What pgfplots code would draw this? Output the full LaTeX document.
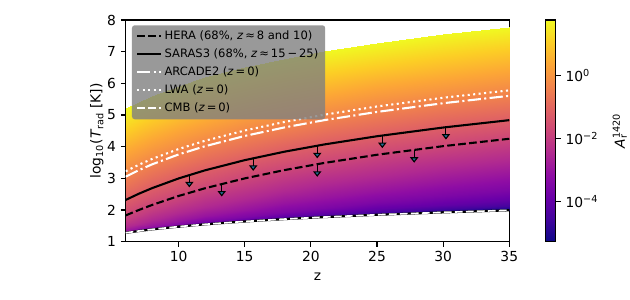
\documentclass[border=0pt]{standalone}
\usepackage{fontspec}
\setmainfont{DejaVu Sans}
\usepackage{pgfplots}
\pgfplotsset{compat=1.18}
\usetikzlibrary{arrows.meta}
\definecolor{headblue}{RGB}{31,110,150}
\pgfplotsset{colormap={plasma}{rgb255=(13,8,135) rgb255=(65,4,157) rgb255=(106,0,168) rgb255=(143,13,164) rgb255=(177,42,144) rgb255=(204,71,120) rgb255=(225,100,98) rgb255=(242,132,75) rgb255=(252,166,54) rgb255=(252,206,37) rgb255=(240,249,33)}}
\begin{document}
\begin{tikzpicture}
\useasboundingbox (0,0) rectangle (6.3in,3in);
\begin{axis}[
  at={(1.257in,0.583in)}, anchor=south west,
  scale only axis, width=3.836in, height=2.217in,
  xmin=6, xmax=35, ymin=1, ymax=8,
  xtick={10,15,20,25,30,35}, ytick={1,2,3,4,5,6,7,8},
  xtick pos=bottom, ytick pos=left, tick align=outside,
  major tick length=3.5pt,
  tick style={black, line width=0.8pt},
  axis line style={line width=0.8pt},
  /pgf/number format/assume math mode=true,
  tick label style={font=\fontsize{10}{12}\selectfont},
  label style={font=\fontsize{10}{12}\selectfont},
  xlabel={z},
  xlabel style={at={(axis description cs:0.5,-0.159)}, anchor=center},
  ylabel={log\textsubscript{10}(\textit{T}\textsubscript{rad} [K])},
  ylabel style={at={(axis description cs:-0.075,0.5)}, anchor=center},
  colormap name=plasma,
  point meta min=-5.26, point meta max=1.74,
  colorbar,
  colorbar style={
    at={(parent axis.north east)}, anchor=north west, xshift=0.24in,
    scale only axis, width=0.107in, height=2.217in,
    ytick={-4,-2,0},
    yticklabels={10\textsuperscript{−4},10\textsuperscript{−2},10\textsuperscript{0}},
    ytick pos=right, yticklabel pos=right, tick align=outside,
    major tick length=3.5pt,
    tick style={black, line width=0.8pt},
    axis line style={line width=0.8pt},
    tick label style={font=\fontsize{10}{12}\selectfont},
    ylabel={\textit{A}\rlap{\textsubscript{r}}\textsuperscript{1420}},
    ylabel style={font=\fontsize{10}{12}\selectfont, yshift=-0.05in},
  },
  legend style={at={(axis description cs:0,1)}, anchor=north west,
    xshift=0.06in, yshift=-0.05in,
    fill=gray, fill opacity=0.8, text opacity=1, draw=none,
    rounded corners=2pt,
    font=\fontsize{8.33}{10}\selectfont, row sep=1.2pt},
  legend cell align=left,
]
\addplot[surf, shader=interp, forget plot, mesh/rows=14, mesh/cols=11, point meta=\thisrow{a}] table[x=z, y=y] {
z y a
6 1.2805 -5.26
7 1.3385 -5.26
8 1.3897 -5.26
10 1.4768 -5.26
12 1.5494 -5.26
15 1.6395 -5.26
18 1.7142 -5.26
21 1.7778 -5.26
25 1.8504 -5.26
30 1.9268 -5.26
35 1.9917 -5.26
6 1.2827 -4.5
7 1.3415 -4.5
8 1.3938 -4.5
10 1.4837 -4.5
12 1.5601 -4.5
15 1.6577 -4.5
18 1.7423 -4.5
21 1.8183 -4.5
25 1.9115 -4.5
30 2.0197 -4.5
35 2.1226 -4.5
6 1.2873 -4
7 1.3481 -4
8 1.4026 -4
10 1.4984 -4
12 1.5823 -4
15 1.6946 -4
18 1.7975 -4
21 1.8948 -4
25 2.0199 -4
30 2.1709 -4
35 2.3165 -4
6 1.3016 -3.5
7 1.3681 -3.5
8 1.4294 -3.5
10 1.5417 -3.5
12 1.6459 -3.5
15 1.7940 -3.5
18 1.9364 -3.5
21 2.0741 -3.5
25 2.2501 -3.5
30 2.4564 -3.5
35 2.6468 -3.5
6 1.3440 -3
7 1.4259 -3
8 1.5045 -3
10 1.6558 -3
12 1.8016 -3
15 2.0108 -3
18 2.2074 -3
21 2.3898 -3
25 2.6119 -3
30 2.8584 -3
35 3.0755 -3
6 1.4560 -2.5
7 1.5701 -2.5
8 1.6813 -2.5
10 1.8939 -2.5
12 2.0921 -2.5
15 2.3616 -2.5
18 2.5996 -2.5
21 2.8104 -2.5
25 3.0572 -2.5
30 3.3222 -2.5
35 3.5503 -2.5
6 1.6913 -2
7 1.8474 -2
8 1.9947 -2
10 2.2621 -2
12 2.4975 -2
15 2.8012 -2
18 3.0592 -2
21 3.2820 -2
25 3.5384 -2
30 3.8100 -2
35 4.0420 -2
6 2.0573 -1.5
7 2.2441 -1.5
8 2.4139 -1.5
10 2.7105 -1.5
12 2.9625 -1.5
15 3.2803 -1.5
18 3.5455 -1.5
21 3.7725 -1.5
25 4.0322 -1.5
30 4.3061 -1.5
35 4.5393 -1.5
6 2.5045 -1
7 2.7055 -1
8 2.8848 -1
10 3.1928 -1
12 3.4510 -1
15 3.7734 -1
18 4.0411 -1
21 4.2695 -1
25 4.5302 -1
30 4.8049 -1
35 5.0385 -1
6 2.9865 -0.5
7 3.1926 -0.5
8 3.3752 -0.5
10 3.6871 -0.5
12 3.9473 -0.5
15 4.2712 -0.5
18 4.5396 -0.5
21 4.7685 -0.5
25 5.0296 -0.5
30 5.3045 -0.5
35 5.5382 -0.5
6 3.4806 0
7 3.6885 0
8 3.8721 0
10 4.1853 0
12 4.4462 0
15 4.7705 0
18 5.0392 0
21 5.2682 0
25 5.5294 0
30 5.8044 0
35 6.0381 0
6 3.9787 0.5
7 4.1871 0.5
8 4.3712 0.5
10 4.6847 0.5
12 4.9458 0.5
15 5.2703 0.5
18 5.5390 0.5
21 5.7681 0.5
25 6.0293 0.5
30 6.3043 0.5
35 6.5381 0.5
6 4.4781 1
7 4.6867 1
8 4.8708 1
10 5.1844 1
12 5.4456 1
15 5.7702 1
18 6.0390 1
21 6.2681 1
25 6.5293 1
30 6.8043 1
35 7.0381 1
6 5.2178 1.74
7 5.4265 1.74
8 5.6107 1.74
10 5.9244 1.74
12 6.1856 1.74
15 6.5102 1.74
18 6.7790 1.74
21 7.0081 1.74
25 7.2693 1.74
30 7.5443 1.74
35 7.7781 1.74
};
% CMB black underlay
\addplot[forget plot, black, line width=1.6pt] table {
6 1.2805
7 1.3385
8 1.3897
10 1.4768
12 1.5494
15 1.6395
18 1.7142
21 1.7778
25 1.8504
30 1.9268
35 1.9917
};
% HERA
\addplot[black, line width=1.5pt, dash pattern=on 5.55pt off 2.4pt] table {
6 1.831
7 2.002
8 2.161
10 2.444
12 2.688
15 2.999
18 3.261
21 3.486
25 3.745
30 4.017
35 4.250
};
\addlegendentry{HERA (68\%, \textit{z}\,≈\,8 and 10)}
% SARAS3
\addplot[black, line width=1.5pt] table {
6 2.319
7 2.516
8 2.692
10 2.997
12 3.254
15 3.575
18 3.842
21 4.070
25 4.330
30 4.605
35 4.838
};
\addlegendentry{SARAS3 (68\%, \textit{z}\,≈\,15\,−\,25)}
% ARCADE2
\addplot[white, line width=1.5pt, dash pattern=on 9.6pt off 2.4pt on 1.5pt off 2.4pt] table {
6 3.053
7 3.260
8 3.443
10 3.755
12 4.015
15 4.339
18 4.608
21 4.837
25 5.098
30 5.373
35 5.606
};
\addlegendentry{ARCADE2 (\textit{z}\,=\,0)}
% LWA
\addplot[white, line width=1.5pt, dash pattern=on 1.5pt off 2.475pt] table {
6 3.223
7 3.431
8 3.614
10 3.926
12 4.187
15 4.511
18 4.780
21 5.009
25 5.270
30 5.545
35 5.779
};
\addlegendentry{LWA (\textit{z}\,=\,0)}
% CMB
\addplot[white, line width=1.2pt, dash pattern=on 5.55pt off 2.4pt] table {
6 1.2805
7 1.3385
8 1.3897
10 1.4768
12 1.5494
15 1.6395
18 1.7142
21 1.7778
25 1.8504
30 1.9268
35 1.9917
};
\addlegendentry{CMB (\textit{z}\,=\,0)}
% upper-limit arrows
\addplot[forget plot, black, line width=0.8pt, -{Triangle[width=6pt,length=4pt,fill=headblue]}, quiver={u=0, v=\thisrow{v}}] table {
x y v
10.81 3.106 -0.39
15.64 3.636 -0.40
20.48 4.032 -0.40
25.40 4.354 -0.40
30.21 4.615 -0.39
13.26 2.826 -0.40
20.48 3.449 -0.40
27.81 3.903 -0.41
};
\end{axis}
\end{tikzpicture}
\end{document}
